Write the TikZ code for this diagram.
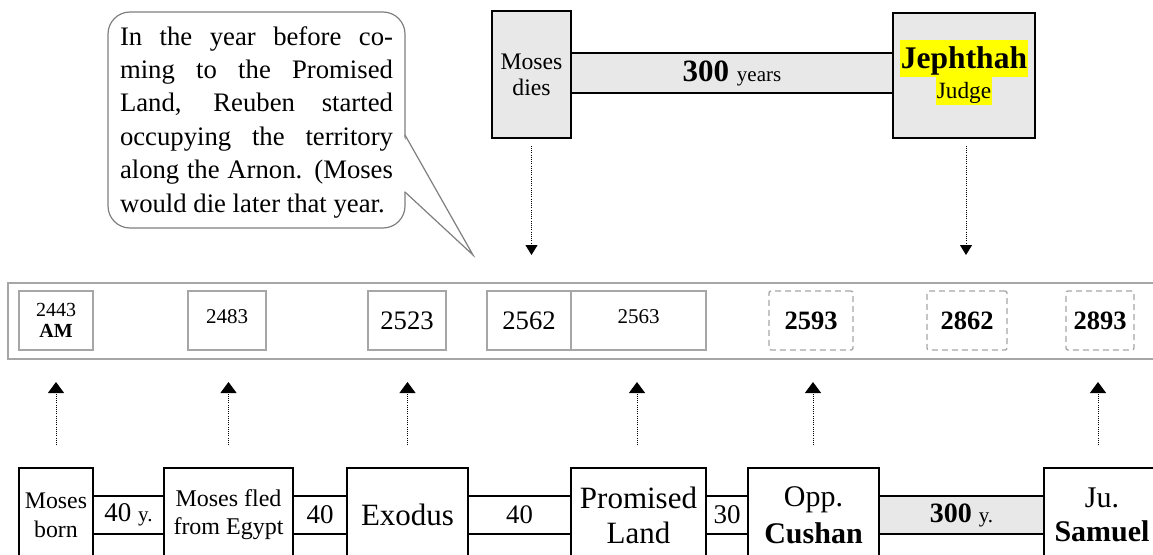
\documentclass[tikz,border=0pt]{standalone}
\usepackage{fontspec}
\setmainfont{Liberation Serif}
\usetikzlibrary{arrows.meta}
\newcommand{\fsz}[2]{\fontsize{#1}{#2}\selectfont}
\definecolor{boxgray}{HTML}{E8E8E8}
\definecolor{bandgray}{HTML}{A6A6A6}
\definecolor{hl}{HTML}{FFFF00}
\definecolor{calloutgray}{HTML}{7F7F7F}
\begin{document}
\begin{tikzpicture}[x=1pt,y=-1pt,
  blackbox/.style={draw=black, line width=1.6pt, fill=white, inner sep=0pt, align=center},
  graybox/.style={blackbox, fill=boxgray},
  datebox/.style={draw=bandgray, line width=1.3pt, fill=white, inner sep=0pt, align=center, minimum height=59pt},
  dashbox/.style={datebox, dash pattern=on 6pt off 4pt, rounded corners=2pt},
  hlbox/.style={fill=hl, inner sep=0pt, inner xsep=1pt},
  downarr/.style={line width=1pt, dash pattern=on 1pt off 1.2pt, -{Triangle[width=12pt,length=10pt]}},
  uparr/.style={line width=1pt, dash pattern=on 1pt off 1.2pt, -{Triangle[width=16pt,length=11pt]}},
]
\useasboundingbox (0,0) rectangle (1153,554);
\clip (0,0) rectangle (1153,554);

% ---------- callout ----------
\node[draw=calloutgray, line width=1.2pt, rounded corners=22pt, fill=white,
      minimum width=297pt, minimum height=216pt, inner sep=0pt] (note) at (256.5,120) {};
\coordinate (tailtop) at (405,135);
\coordinate (tailbot) at (405,192);
\coordinate (tailtip) at (473,255);
\fill[white] (403.6,136.5) -- (tailtip) -- (403.6,190.5) -- cycle;
\draw[calloutgray, line width=1.2pt] (tailtop) -- (tailtip) -- (tailbot);
\node[align=left, inner sep=0pt, font=\fsz{26.7}{33.4}] (notetext) at (256.5,122) {%
\makebox[273pt][s]{In the year before co-}\\
\makebox[273pt][s]{ming to the Promised}\\
\makebox[273pt][s]{Land, Reuben started}\\
\makebox[273pt][s]{occupying the territory}\\
\makebox[273pt][s]{along the Arnon. (Moses}\\
\makebox[273pt][l]{would die later that year.}};

% ---------- top row ----------
\node[graybox, minimum width=322pt, minimum height=40pt] (yrs) at (732,73)
  {\fsz{31}{31}\textbf{300} \fsz{21}{21}years};
\node[graybox, minimum width=79pt, minimum height=127pt, font=\fsz{23.7}{26}] (mdies) at (531.5,74.5) {Moses\\dies};
\node[graybox, minimum width=142pt, minimum height=125pt] (jeph) at (964,75.5) {};
\node[hlbox, text height=28pt, text depth=9pt, font=\fsz{31.5}{31.5}\bfseries] (jname) at (964,58.5) {Jephthah};
\node[hlbox, text height=21pt, text depth=7pt, font=\fsz{23.3}{23.3}] (jrole) at (964,91) {Judge};

\coordinate (ta1) at (531.5,255);
\coordinate (ta2) at (966,255);
\draw[downarr] ([yshift=-7pt]mdies.south) -- (ta1);
\draw[downarr] ([yshift=-7pt,xshift=2pt]jeph.south) -- (ta2);

% ---------- date band ----------
\node[draw=bandgray, line width=1.3pt, minimum width=1152pt, minimum height=76pt, inner sep=0pt] (band) at (584,321) {};
\node[datebox, minimum width=74pt, font=\fsz{20}{20.5}] (d2443) at (56,320.5) {2443\\\textbf{AM}};
\node[datebox, minimum width=78pt, font=\fsz{21}{21}, text depth=7pt] (d2483) at (227,320.5) {2483};
\node[datebox, minimum width=78pt, font=\fsz{26.7}{26.7}] (d2523) at (407,320.5) {2523};
\node[datebox, minimum width=84pt, font=\fsz{26.7}{26.7}] (d2562) at (529,320.5) {2562};
\node[datebox, minimum width=135pt, font=\fsz{21}{21}, text depth=7pt] (d2563) at (638.5,320.5) {2563};
\node[dashbox, minimum width=84pt, font=\fsz{26.5}{26.5}\bfseries] (d2593) at (811,320.5) {2593};
\node[dashbox, minimum width=80pt, font=\fsz{26.5}{26.5}\bfseries] (d2862) at (967,320.5) {2862};
\node[dashbox, minimum width=68pt, font=\fsz{26.5}{26.5}\bfseries] (d2893) at (1100,320.5) {2893};

% ---------- bottom row ----------
\node[blackbox, minimum width=71pt, minimum height=38pt] (bar1) at (128.5,515) {\fsz{27}{27}40 \fsz{21}{21}y.};
\node[blackbox, minimum width=54pt, minimum height=38pt, font=\fsz{27}{27}] (bar2) at (320,515) {40};
\node[blackbox, minimum width=103pt, minimum height=38pt, font=\fsz{26.7}{26.7}] (bar3) at (519.5,515) {40};
\node[blackbox, minimum width=42pt, minimum height=38pt, font=\fsz{27}{27}] (bar4) at (727,515) {30};
\node[graybox, minimum width=165pt, minimum height=38pt] (bar5) at (961.5,515) {\fsz{28}{28}\textbf{300} \fsz{21}{21}y.};

\node[blackbox, minimum width=74pt, minimum height=94pt, font=\fsz{23.8}{29}] (born) at (56,515) {Moses\\born};
\node[blackbox, minimum width=129pt, minimum height=94pt, font=\fsz{24}{28}] (fled) at (228.5,515) {Moses fled\\from Egypt};
\node[blackbox, minimum width=121pt, minimum height=94pt, font=\fsz{31}{31}] (exodus) at (407.5,515) {Exodus};
\node[blackbox, minimum width=135pt, minimum height=94pt, font=\fsz{31}{35}] (promised) at (638.5,515) {Promised\\Land};
\node[blackbox, minimum width=131pt, minimum height=94pt, font=\fsz{30}{37}] (cushan) at (813.5,515) {Opp.\\\textbf{Cushan}};
\node[blackbox, minimum width=116pt, minimum height=94pt, font=\fsz{30}{34}] (samuel) at (1102,515) {Ju.\\\textbf{Samuel}};

\coordinate (u1) at (56,382);
\coordinate (u2) at (228.5,382);
\coordinate (u3) at (407.5,382);
\coordinate (u4) at (637,382);
\coordinate (u5) at (813,382);
\coordinate (u6) at (1098,382);
\draw[uparr] ([yshift=22pt]born.north) -- (u1);
\draw[uparr] ([yshift=22pt]fled.north) -- (u2);
\draw[uparr] ([yshift=22pt]exodus.north) -- (u3);
\draw[uparr] ([yshift=22pt,xshift=-1.5pt]promised.north) -- (u4);
\draw[uparr] ([yshift=22pt,xshift=-0.5pt]cushan.north) -- (u5);
\draw[uparr] ([yshift=22pt,xshift=-4pt]samuel.north) -- (u6);
\end{tikzpicture}
\end{document}
